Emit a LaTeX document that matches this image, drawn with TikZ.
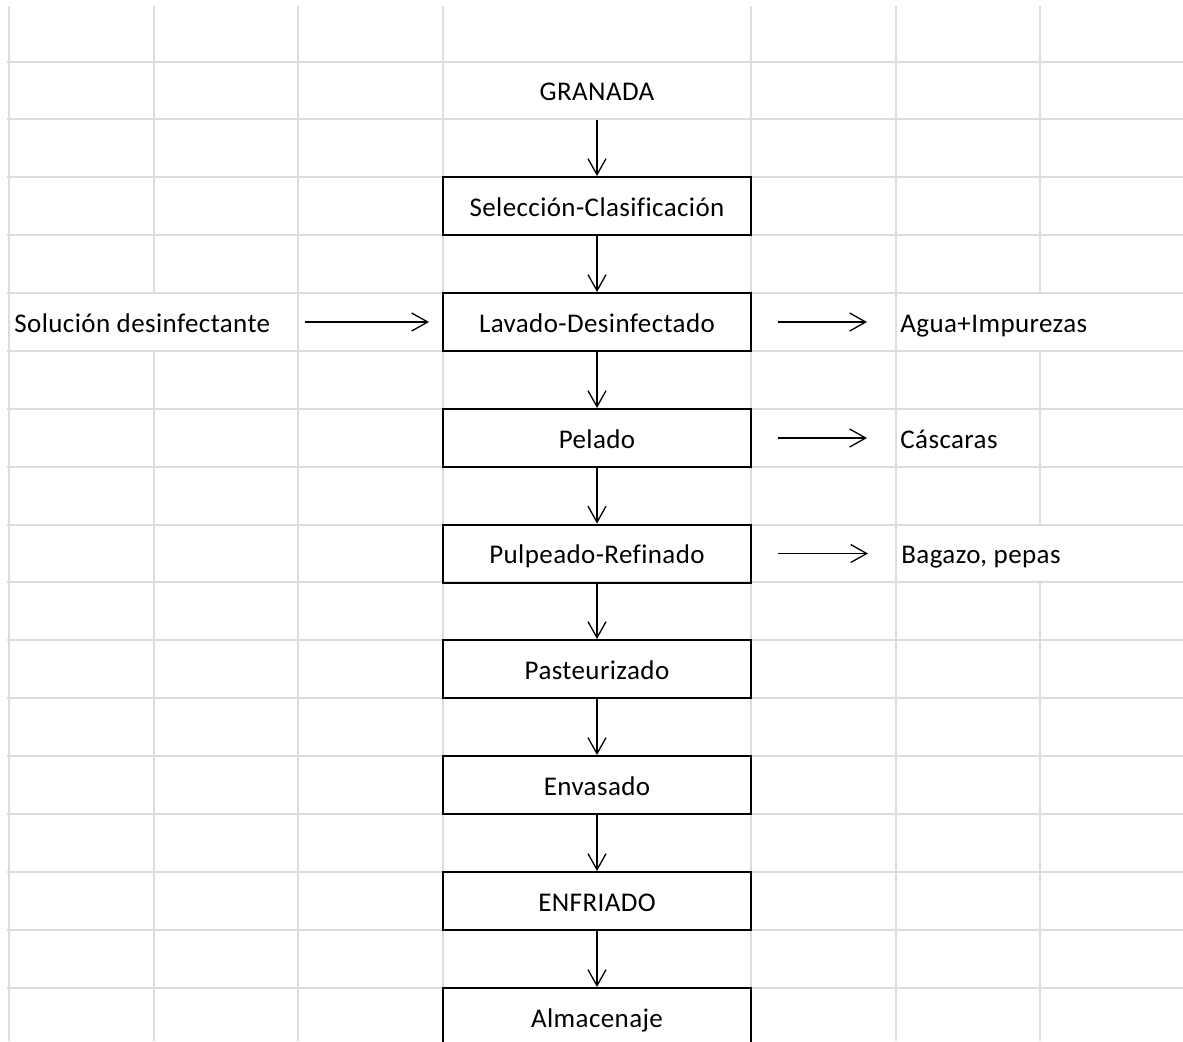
\documentclass[tikz,border=0pt]{standalone}
\usepackage{fontspec}
\setmainfont{Carlito}[Ligatures=NoCommon, LetterSpace=1.5]
\usetikzlibrary{arrows.meta}
\definecolor{cellgrid}{RGB}{218,220,221}

\begin{document}
\begin{tikzpicture}[x=0.5pt,y=-0.5pt,
	font=\fontsize{13.5}{16}\selectfont,
	cell/.style={minimum width=154pt, minimum height=29pt, inner sep=0pt, text height=10pt, text depth=0pt},
	stage/.style={cell, draw=black, line width=1pt},
	side/.style={inner sep=0pt, anchor=west, text height=10pt, text depth=0pt},
	flow/.style={-{Straight Barb[length=8pt,width=9pt]}, line width=0.65pt},
	waste/.style={flow, shorten <=13pt, shorten >=16.5pt}]
	\clip (0,0) rectangle (1183,1041);
	% hoja de calculo
	\foreach \y in {62,119,177,235,293,351,409,467,525,582,640,698,756,814,872,930,988}
		\draw[cellgrid, line width=1pt] (7,\y) -- (1183,\y);
	\foreach \x in {9,298,443,751,896}
		\draw[cellgrid, line width=1pt] (\x,6) -- (\x,1041);
	\draw[cellgrid, line width=1pt] (154,6) -- (154,293) (154,351) -- (154,1041);
	\draw[cellgrid, line width=1pt] (1040,6) -- (1040,293) (1040,351) -- (1040,525) (1040,582) -- (1040,1041);

	\node[cell]  (gra) at (597,90.5) {GRANADA};
	\node[stage] (sel) at (597,206)  {Selección-Clasificación};
	\node[stage] (lav) at (597,322)  {Lavado-Desinfectado};
	\node[stage] (pel) at (597,438)  {Pelado};
	\node[stage] (pul) at (597,553.5) {Pulpeado-Refinado};
	\node[stage] (pas) at (597,669)  {Pasteurizado};
	\node[stage] (env) at (597,785)  {Envasado};
	\node[stage] (enf) at (597,901)  {ENFRIADO};
	\node[stage] (alm) at (597,1017) {Almacenaje};

	\node[side] (sol) at (14,322)   {Solución desinfectante};
	\node[side] (agu) at (900,322)  {Agua+Impurezas};
	\node[side] (cas) at (900,438)  {Cáscaras};
	\node[side] (bag) at (901,553.5) {Bagazo, pepas};

	\draw[flow] (gra) -- (sel);
	\draw[flow] (sel) -- (lav);
	\draw[flow] (lav) -- (pel);
	\draw[flow] (pel) -- (pul);
	\draw[flow] (pul) -- (pas);
	\draw[flow] (pas) -- (env);
	\draw[flow] (env) -- (enf);
	\draw[flow] (enf) -- (alm);

	\draw[flow, shorten <=17pt, shorten >=6.5pt] (sol.east) -- (sol.east -| lav.west);
	\draw[waste] (lav) -- (agu);
	\draw[waste] (pel) -- (cas);
	\draw[waste] (pul) -- (bag);
\end{tikzpicture}
\end{document}
